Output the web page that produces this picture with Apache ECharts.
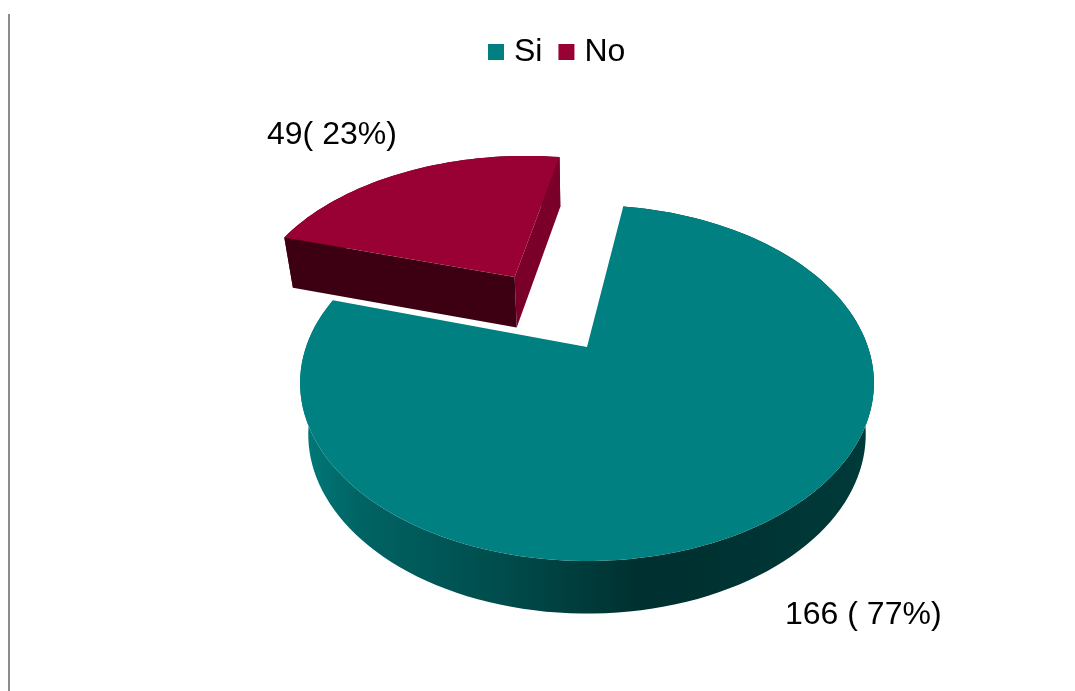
<!DOCTYPE html>
<html>
<head>
<meta charset="utf-8">
<style>html,body{margin:0;padding:0;background:#fff}#c{width:1075px;height:691px}</style>
<script src="https://cdn.jsdelivr.net/npm/echarts@6/dist/echarts.min.js"></script>
</head>
<body>
<div id="c"></div>
<script>
const categories = ['Si', 'No'];
const values = [166, 49];
const labelSeparators = [' ( ', '( '];
const colors = ['#008080', '#990033'];

const total = values.reduce((a, b) => a + b, 0);
const percents = values.map(v => Math.round(v / total * 100));
const labelTexts = values.map((v, i) => v + labelSeparators[i] + percents[i] + '%)');

// View of a tilted disc: a plane with perspective, one projection for top and one for bottom face.
const FIRST_ANGLE = 8.9 * Math.PI / 180;
const EXPLODE = [0, 0.528];
const PERSPECTIVE = 0.2022;
const CX = 587;
const TOP_FACE = { cy: 347, a: 170.7, b: 281 };
const BOTTOM_FACE = { cy: 398, a: 172, b: 273 };
const STEP = Math.PI / 90;

function project(face, u, v) {
  const d = 1 + PERSPECTIVE * v;
  return [CX + face.b * u / d, face.cy - face.a * v / d];
}
function sliceAngles(i) {
  let start = FIRST_ANGLE;
  for (let k = 0; k < i; k++) start += values[k] / total * 2 * Math.PI;
  return [start, start + values[i] / total * 2 * Math.PI];
}
function arc(face, i) {
  const [s, e] = sliceAngles(i);
  const mid = (s + e) / 2;
  const ou = Math.sin(mid) * EXPLODE[i], ov = Math.cos(mid) * EXPLODE[i];
  const pts = [];
  const n = Math.max(2, Math.ceil((e - s) / STEP));
  for (let k = 0; k <= n; k++) {
    const t = s + (e - s) * k / n;
    pts.push(project(face, ou + Math.sin(t), ov + Math.cos(t)));
  }
  return { pts, apex: project(face, ou, ov) };
}
const poly = (points, fill) => ({
  type: 'polygon',
  shape: { points },
  style: { fill, stroke: null }
});

const tealWall = new echarts.graphic.LinearGradient(0, 0, 1, 0, [
  { offset: 0, color: '#007a7a' },
  { offset: 0.1, color: '#006464' },
  { offset: 0.35, color: '#004c4c' },
  { offset: 0.55, color: '#003535' },
  { offset: 0.6, color: '#002f2f' },
  { offset: 1, color: '#003a3a' }
]);
const redWall = new echarts.graphic.LinearGradient(0, 0, 1, 0, [
  { offset: 0, color: '#5c001f' },
  { offset: 1, color: '#3d0013' }
]);
const walls = [tealWall, redWall];
const cutStart = [null, '#3d0013'];
const cutEnd = [null, '#7a0029'];
const labelPos = [[785, 615], [267, 135]];

function renderSlice(i) {
  return function () {
    const top = arc(TOP_FACE, i);
    const bot = arc(BOTTOM_FACE, i);
    const children = [];
    children.push(poly(top.pts.concat(bot.pts.slice().reverse()), walls[i]));
    const l = top.pts.length - 1;
    if (cutEnd[i]) {
      children.push(poly([top.apex, top.pts[l], bot.pts[l], bot.apex], cutEnd[i]));
    }
    if (cutStart[i]) {
      children.push(poly([top.apex, top.pts[0], bot.pts[0], bot.apex], cutStart[i]));
    }
    children.push(poly([top.apex].concat(top.pts), colors[i]));
    children.push({
      type: 'text',
      style: {
        x: labelPos[i][0], y: labelPos[i][1], text: labelTexts[i],
        fill: '#000', font: '32px "Liberation Sans", Arial, sans-serif',
        align: 'left', verticalAlign: 'middle'
      }
    });
    return { type: 'group', children };
  };
}

const chart = echarts.init(document.getElementById('c'), null, { renderer: 'canvas' });
chart.setOption({
  animation: false,
  backgroundColor: '#ffffff',
  legend: {
    data: categories,
    left: 483, top: 31,
    icon: 'rect',
    itemWidth: 16, itemHeight: 16, itemGap: 16,
    textStyle: { fontSize: 32, color: '#000', fontFamily: '"Liberation Sans", Arial, sans-serif', padding: [0, 0, 0, 5] }
  },
  graphic: [{
    type: 'line',
    shape: { x1: 9, y1: 14, x2: 9, y2: 691 },
    style: { stroke: '#8c8c8c', lineWidth: 2 }
  }],
  series: categories.map((name, i) => ({
    type: 'custom',
    name,
    coordinateSystem: 'none',
    itemStyle: { color: colors[i] },
    data: [values[i]],
    renderItem: renderSlice(i)
  }))
});
</script>
</body>
</html>
